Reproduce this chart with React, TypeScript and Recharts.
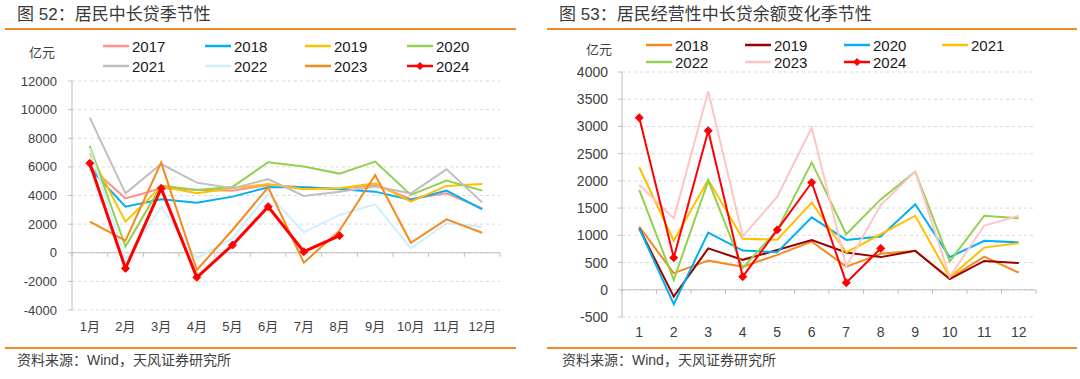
import React from "react";
import {
  LineChart,
  Line,
  XAxis,
  YAxis,
  CartesianGrid,
  ReferenceLine,
} from "recharts";

const FONT = '"Liberation Sans", Arial, "Noto Sans CJK SC", sans-serif';
const TEXT = "#404040";
const ORANGE = "#F08A24";

// 图52 居民中长贷季节性（亿元）
const monthsA = ["1月", "2月", "3月", "4月", "5月", "6月", "7月", "8月", "9月", "10月", "11月", "12月"];
const ticksA = [-4000, -2000, 0, 2000, 4000, 6000, 8000, 10000, 12000];
const a2017 = [6020, 3800, 4500, 4400, 4340, 4730, 4570, 4480, 4730, 3760, 4150, 3100];
const a2018 = [5900, 3220, 3730, 3500, 3920, 4570, 4570, 4430, 4270, 3690, 4340, 3030];
const a2019 = [6950, 2170, 4620, 4150, 4500, 4800, 4430, 4500, 4850, 3570, 4670, 4800];
const a2020 = [7460, 430, 4690, 4380, 4600, 6320, 6020, 5530, 6370, 4040, 5040, 4340];
const a2021 = [9440, 4150, 6200, 4900, 4500, 5150, 3970, 4270, 4620, 4150, 5830, 3520];
const a2022 = [7300, -510, 3220, -390, 1010, 4100, 1430, 2640, 3380, 310, 2060, 1820];
const a2023 = [2170, 840, 6300, -1200, 1590, 4570, -690, 1540, 5430, 700, 2330, 1400];
const a2024 = [6250, -1090, 4500, -1720, 540, 3220, 75, 1190, null, null, null, null];

// 图53 居民经营性中长贷余额变化季节性（亿元）
const monthsB = ["1", "2", "3", "4", "5", "6", "7", "8", "9", "10", "11", "12"];
const ticksB = [-500, 0, 500, 1000, 1500, 2000, 2500, 3000, 3500, 4000];
const b2018 = [1160, 305, 535, 425, 640, 885, 425, 660, 715, 210, 610, 315];
const b2019 = [1130, -125, 760, 550, 730, 915, 685, 600, 715, 195, 530, 490];
const b2020 = [1130, -265, 1050, 720, 690, 1330, 915, 980, 1570, 600, 900, 870];
const b2021 = [2250, 900, 2020, 935, 920, 1600, 685, 1020, 1360, 230, 775, 855];
const b2022 = [1835, 180, 2005, 400, 1100, 2340, 1020, 1660, 2170, 520, 1360, 1315];
const b2023 = [1930, 1310, 3640, 980, 1710, 2980, 430, 1560, 2170, 240, 1180, 1360];
const b2024 = [3160, 590, 2920, 240, 1100, 1970, 130, 760, null, null, null, null];

const seriesA = [
  { key: "2017", values: a2017, color: "#FF8F8F" },
  { key: "2018", values: a2018, color: "#00B0F0" },
  { key: "2019", values: a2019, color: "#FFC000" },
  { key: "2020", values: a2020, color: "#92D050" },
  { key: "2021", values: a2021, color: "#BFBFBF" },
  { key: "2022", values: a2022, color: "#CDEFFF" },
  { key: "2023", values: a2023, color: "#F58A1F" },
  { key: "2024", values: a2024, color: "#FF0000", marker: true },
];

const seriesB = [
  { key: "2018", values: b2018, color: "#F58A1F" },
  { key: "2019", values: b2019, color: "#990000" },
  { key: "2020", values: b2020, color: "#00B0F0" },
  { key: "2021", values: b2021, color: "#FFC000" },
  { key: "2022", values: b2022, color: "#92D050" },
  { key: "2023", values: b2023, color: "#FFC4C4" },
  { key: "2024", values: b2024, color: "#FF0000", marker: true },
];

const buildRows = (cats: string[], series: any[]) =>
  cats.map((c, i) => {
    const row: any = { month: c };
    series.forEach((s) => (row[s.key] = s.values[i]));
    return row;
  });

const dataA = buildRows(monthsA, seriesA);
const dataB = buildRows(monthsB, seriesB);

const Diamond = (props: any) => {
  const { cx, cy, fill } = props;
  if (cx == null || cy == null || props.value == null) return null;
  const r = 4;
  return (
    <path
      d={`M${cx},${cy - r}L${cx + r},${cy}L${cx},${cy + r}L${cx - r},${cy}Z`}
      fill={fill}
      stroke={fill}
    />
  );
};

// zero line with small downward ticks at category borders
const ZeroLine = (props: any) => {
  const { x1, y1, x2, y2 } = props;
  const n = 12;
  const marks = [];
  for (let i = 0; i <= n; i++) {
    const x = x1 + ((x2 - x1) * i) / n;
    marks.push(<line key={i} x1={x} y1={y1} x2={x} y2={y1 + 4} stroke="#BFBFBF" />);
  }
  return (
    <g>
      <line x1={x1} y1={y1} x2={x2} y2={y2} stroke="#BFBFBF" strokeWidth={1} />
      {marks}
    </g>
  );
};

const LegendItem = ({ left, top, color, label, marker }: any) => (
  <div
    style={{
      position: "absolute",
      left,
      top: top - 9,
      height: 18,
      display: "flex",
      alignItems: "center",
      fontSize: 15,
      color: "#1a1a1a",
      fontFamily: FONT,
      whiteSpace: "nowrap",
    }}
  >
    <svg width={26} height={10} style={{ marginRight: 3 }}>
      <line x1={0} y1={5} x2={26} y2={5} stroke={color} strokeWidth={2.5} />
      {marker && <path d="M13,1L17,5L13,9L9,5Z" fill={color} />}
    </svg>
    {label}
  </div>
);

const Title = ({ left, text }: any) => (
  <div
    style={{
      position: "absolute",
      left,
      top: 4,
      fontSize: 17,
      lineHeight: "22px",
      color: "#3a3a3a",
      fontFamily: FONT,
      whiteSpace: "nowrap",
    }}
  >
    {text}
  </div>
);

const Rule = ({ left, top, width }: any) => (
  <div style={{ position: "absolute", left, top, width, height: 2, background: ORANGE }} />
);

const Note = ({ left, top, text, size = 13 }: any) => (
  <div
    style={{
      position: "absolute",
      left,
      top,
      fontSize: size,
      lineHeight: "16px",
      color: TEXT,
      fontFamily: FONT,
      whiteSpace: "nowrap",
    }}
  >
    {text}
  </div>
);

const App = () => {
  const colsA = [103, 205, 305, 407];
  const rowsA = [46, 66];
  const colsB = [646, 745, 844, 942];
  const rowsB = [45, 62];

  return (
    <div
      style={{
        position: "absolute",
        left: 0,
        top: 0,
        width: 1080,
        height: 379,
        background: "#fff",
        fontFamily: FONT,
        overflow: "hidden",
      }}
    >
      <Title left={17} text="图 52：居民中长贷季节性" />
      <Title left={559} text="图 53：居民经营性中长贷余额变化季节性" />
      <Rule left={5} top={28} width={511} />
      <Rule left={547} top={28} width={530} />
      <Rule left={5} top={347} width={511} />
      <Rule left={547} top={347} width={530} />
      <Note left={17} top={352} text="资料来源：Wind，天风证券研究所" size={14} />
      <Note left={562} top={352} text="资料来源：Wind，天风证券研究所" size={14} />
      <Note left={29} top={45} text="亿元" />
      <Note left={586} top={42} text="亿元" />

      {seriesA.map((s, i) => (
        <LegendItem
          key={"la" + s.key}
          left={colsA[i % 4]}
          top={rowsA[Math.floor(i / 4)]}
          color={s.color}
          label={s.key}
          marker={s.marker}
        />
      ))}
      {seriesB.map((s, i) => (
        <LegendItem
          key={"lb" + s.key}
          left={colsB[i % 4]}
          top={rowsB[Math.floor(i / 4)]}
          color={s.color}
          label={s.key}
          marker={s.marker}
        />
      ))}

      <div style={{ position: "absolute", left: 0, top: 0 }}>
        <LineChart width={516} height={340} data={dataA} margin={{ top: 81, right: 16, left: 0, bottom: 0 }}>
          <CartesianGrid vertical={false} stroke="#D9D9D9" strokeDasharray="3 3" />
          <XAxis
            dataKey="month"
            axisLine={false}
            tickLine={false}
            height={30}
            tickSize={6}
            tickMargin={6}
            interval={0}
            padding={{ left: 17.8, right: 17.8 }}
            tick={{ fill: TEXT, fontSize: 13 }}
          />
          <YAxis
            domain={[-4000, 12000]}
            ticks={ticksA}
            width={72}
            axisLine={{ stroke: "#BFBFBF" }}
            tickLine={{ stroke: "#BFBFBF" }}
            tickSize={4}
            tickMargin={11}
            tick={{ fill: TEXT, fontSize: 13 }}
          />
          <ReferenceLine y={0} shape={<ZeroLine />} />
          {seriesA.map((s) => (
            <Line
              key={s.key}
              dataKey={s.key}
              stroke={s.color}
              strokeWidth={s.marker ? 3 : 2}
              type="linear"
              dot={s.marker ? <Diamond fill={s.color} /> : false}
              activeDot={false}
              isAnimationActive={false}
            />
          ))}
        </LineChart>
      </div>

      <div style={{ position: "absolute", left: 540, top: 0 }}>
        <LineChart width={510} height={347} data={dataB} margin={{ top: 72, right: 14, left: 0, bottom: 0 }}>
          <CartesianGrid vertical={false} stroke="#D9D9D9" strokeDasharray="3 3" />
          <XAxis
            dataKey="month"
            axisLine={false}
            tickLine={false}
            height={30}
            tickSize={6}
            tickMargin={4}
            interval={0}
            padding={{ left: 17.25, right: 17.25 }}
            tick={{ fill: TEXT, fontSize: 14 }}
          />
          <YAxis
            domain={[-500, 4000]}
            ticks={ticksB}
            width={82}
            axisLine={{ stroke: "#BFBFBF" }}
            tickLine={{ stroke: "#BFBFBF" }}
            tickSize={4}
            tickMargin={10}
            tick={{ fill: TEXT, fontSize: 14 }}
          />
          <ReferenceLine y={0} shape={<ZeroLine />} />
          {seriesB.map((s) => (
            <Line
              key={s.key}
              dataKey={s.key}
              stroke={s.color}
              strokeWidth={2}
              type="linear"
              dot={s.marker ? <Diamond fill={s.color} /> : false}
              activeDot={false}
              isAnimationActive={false}
            />
          ))}
        </LineChart>
      </div>
    </div>
  );
};

export default App;
